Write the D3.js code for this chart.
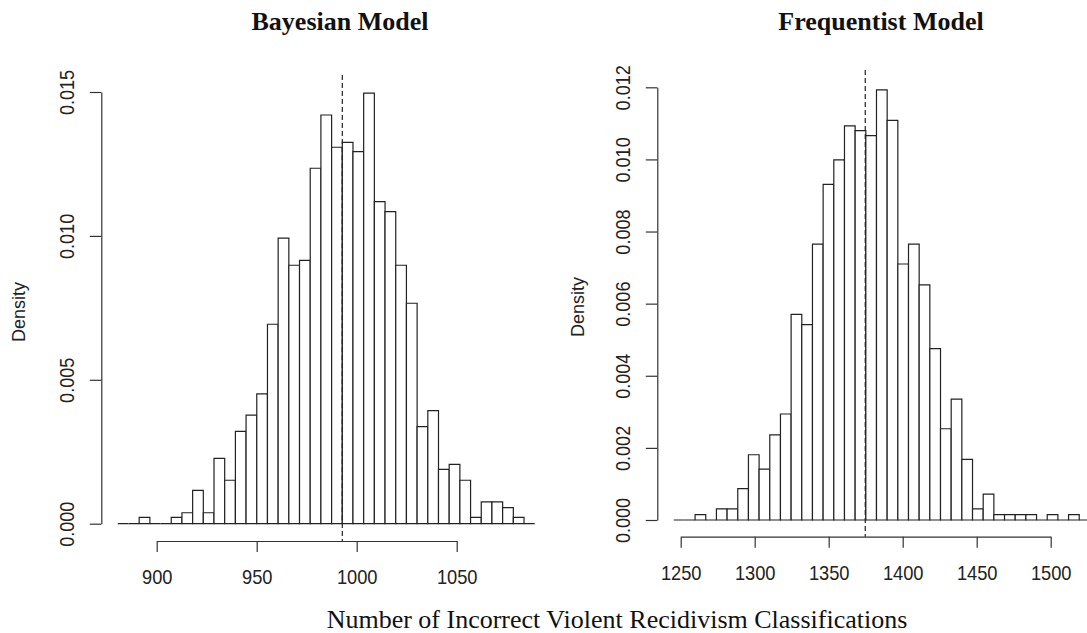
<!DOCTYPE html>
<html>
<head>
<meta charset="utf-8">
<script src="https://cdn.jsdelivr.net/npm/d3@7"></script>
<style>
  body { margin: 0; background: #fff; }
  svg { display: block; }
  .bar { fill: #fff; stroke: #222; stroke-width: 1.2; }
  .axis path, .axis line { stroke: #333; stroke-width: 1.2; }
  .axis text { font-family: "Liberation Sans", Arial, sans-serif; fill: #222; }
</style>
</head>
<body>
<svg width="1087" height="633"></svg>
<script>
// Bayesian model histogram: density per bin, bins
var bayesBinStart = 880.55;
var bayesBinWidth = 5.345;
var bayesDensity = [
  0, 0, 0.00022, 0, 0,
  0.00022, 0.00038, 0.00116, 0.00038, 0.00227, 0.00151, 0.00321, 0.00377,
  0.00451, 0.00693, 0.00992, 0.00898, 0.00915, 0.01235, 0.01420, 0.01308,
  0.01325, 0.01293, 0.01496, 0.01119, 0.01084, 0.00898, 0.00766, 0.00337,
  0.00393, 0.00189, 0.00206, 0.00151, 0.00022, 0.00076, 0.00076, 0.00056,
  0.00022, 0
];
var bayesMean = 992.8;
var bayesTicksX = [900, 950, 1000, 1050];
var bayesTicksY = [0, 0.005, 0.010, 0.015];

// Frequentist model histogram
var freqBinStart = 1245.3;
var freqBinWidth = 7.21;
var freqDensity = [
  0, 0, 0.00015, 0, 0.00031,
  0.00031, 0.00087, 0.00181, 0.00141, 0.00236, 0.00294, 0.00570, 0.00542,
  0.00765, 0.00931, 0.00999, 0.01093, 0.01080, 0.01066, 0.01193, 0.01108,
  0.00710, 0.00765, 0.00652, 0.00475, 0.00253, 0.00335, 0.00168, 0.00031,
  0.00072, 0.00015, 0.00015, 0.00015, 0.00015, 0, 0.00015, 0,
  0.00015, 0
];
var freqMean = 1374.7;
var freqTicksX = [1250, 1300, 1350, 1400, 1450, 1500];
var freqTicksY = [0, 0.002, 0.004, 0.006, 0.008, 0.010, 0.012];

var svg = d3.select("svg");

function panel(opt) {
  var x = d3.scaleLinear().domain(d3.extent(opt.ticksX)).range(opt.xRange);
  var y = d3.scaleLinear().domain(d3.extent(opt.ticksY)).range(opt.yRange);
  var g = svg.append("g");

  var bins = opt.density.map(function(d, i) {
    return { x0: opt.binStart + i * opt.binWidth, x1: opt.binStart + (i + 1) * opt.binWidth, d: d };
  });

  // paths, not rects, so empty bins still show as a line on zero (like R)
  g.selectAll("path.bar")
    .data(bins)
    .enter().append("path")
    .attr("class", "bar")
    .attr("d", function(b) {
      var x0 = x(b.x0), x1 = x(b.x1), y0 = y(0), y1 = y(b.d);
      return "M" + x0 + "," + y0 + "V" + y1 + "H" + x1 + "V" + y0 + "Z";
    });

  // dashed line at the mean, runs down to the x axis
  g.append("line")
    .attr("x1", x(opt.mean)).attr("x2", x(opt.mean))
    .attr("y1", opt.dashTop).attr("y2", opt.xAxisY)
    .attr("stroke", "#222")
    .attr("stroke-width", 1.2)
    .attr("stroke-dasharray", "5,3");

  var xa = g.append("g")
    .attr("class", "axis")
    .attr("transform", "translate(0," + opt.xAxisY + ")")
    .call(d3.axisBottom(x).tickValues(opt.ticksX).tickSize(11).tickSizeOuter(0).tickFormat(d3.format("d")));
  xa.selectAll("text")
    .attr("y", 0).attr("dy", 0)
    .attr("transform", "translate(0,43) scale(0.87,1)")
    .style("font-size", "21px");

  var ya = g.append("g")
    .attr("class", "axis")
    .attr("transform", "translate(" + opt.yAxisX + ",0)")
    .call(d3.axisLeft(y).tickValues(opt.ticksY).tickSize(11.5).tickSizeOuter(0).tickFormat(d3.format(opt.yFmt)));
  ya.selectAll("text")
    .attr("transform", "translate(-27,0) rotate(-90) scale(0.86,1)")
    .attr("x", 0).attr("y", 0).attr("dy", 0)
    .style("text-anchor", "middle")
    .style("font-size", "21px");

  svg.append("text")
    .attr("transform", "translate(" + opt.densityX + "," + opt.densityY + ") rotate(-90)")
    .attr("text-anchor", "middle")
    .attr("dy", "0.35em")
    .style("font-family", "Liberation Sans, Arial, sans-serif")
    .style("font-size", "18px")
    .attr("fill", "#222")
    .text("Density");

  svg.append("text")
    .attr("x", opt.titleX).attr("y", 30)
    .attr("text-anchor", "middle")
    .style("font-family", "Liberation Serif, serif")
    .style("font-weight", "bold")
    .style("font-size", "26px")
    .attr("fill", "#111")
    .text(opt.title);
}

panel({
  title: "Bayesian Model", titleX: 340,
  density: bayesDensity, binStart: bayesBinStart, binWidth: bayesBinWidth, mean: bayesMean,
  ticksX: bayesTicksX, ticksY: bayesTicksY, yFmt: ".3f",
  xRange: [156.7, 456.7], yRange: [523.7, 92],
  xAxisY: 541, yAxisX: 101.3, dashTop: 75,
  densityX: 19, densityY: 312
});

panel({
  title: "Frequentist Model", titleX: 881,
  density: freqDensity, binStart: freqBinStart, binWidth: freqBinWidth, mean: freqMean,
  ticksX: freqTicksX, ticksY: freqTicksY, yFmt: ".3f",
  xRange: [680.7, 1050.7], yRange: [520, 87.3],
  xAxisY: 536.7, yAxisX: 657.3, dashTop: 70,
  densityX: 578, densityY: 307
});

svg.append("text")
  .attr("x", 617).attr("y", 628)
  .attr("text-anchor", "middle")
  .style("font-family", "Liberation Serif, serif")
  .style("font-size", "26px")
  .attr("fill", "#111")
  .text("Number of Incorrect Violent Recidivism Classifications");
</script>
</body>
</html>
